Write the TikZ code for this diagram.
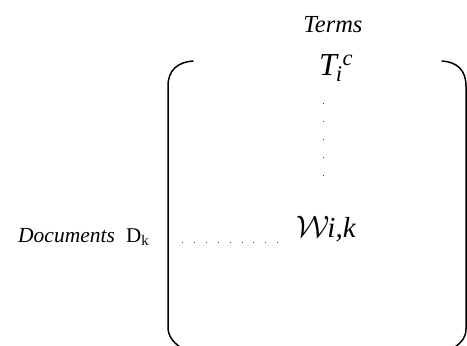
\documentclass[tikz,border=0pt]{standalone}
\usepackage{fontspec}
\setmainfont{Liberation Serif}
\usepackage{tikz}
\usetikzlibrary{calc}

\tikzset{
  lbl/.style={inner sep=0pt, anchor=base west},
  brk/.style={line width=1.5pt, line cap=round},
  dotrow/.style={black!75, line width=1pt, dash pattern=on 1pt off 10.9pt},
  dotcol/.style={black!75, line width=1pt, dash pattern=on 1pt off 17pt}
}

\begin{document}
\begin{tikzpicture}[x=1pt,y=-1pt]
\useasboundingbox (0,0) rectangle (467,346);

% matrix brackets
\draw[brk] (193,61) .. controls (178,62) and (168,70) .. (168,86) -- (168,327)
  .. controls (168,336) and (173,342) .. (180,347);
\draw[brk] (442,61) .. controls (457,62) and (466,70) .. (466,86) -- (466,329)
  .. controls (466,337) and (462,342) .. (455,347);

% labels
\node[inner sep=0pt, anchor=base, font=\fontsize{24.5}{28}\selectfont\itshape] (terms) at (333,32) {Terms};
\node[lbl, font=\fontsize{32}{36}\selectfont\itshape] (term) at (319,75)
  {T\kern-1pt\textsubscript{i}\textsuperscript{c}};
\node[lbl, font=\fontsize{21.5}{25}\selectfont\itshape] (docs) at (18,242) {Documents};
\node[lbl, font=\fontsize{21}{25}\selectfont] (dk) at (126,242) {D\textsubscript{k}};
\node[lbl, font=\fontsize{29}{32}\selectfont\itshape] (weight) at (296,237)
  {\scalebox{1.25}{$\mathcal{W}$}\kern-2pt i,k};

% dotted rows
\coordinate (vtop) at (323,103);
\coordinate (vbot) at (323,176);
\coordinate (hleft) at (182,242);
\coordinate (hright) at (278,242);
\draw[dotcol] (vtop) -- (vbot);
\draw[dotrow] (hleft) -- (hright);
\end{tikzpicture}
\end{document}
